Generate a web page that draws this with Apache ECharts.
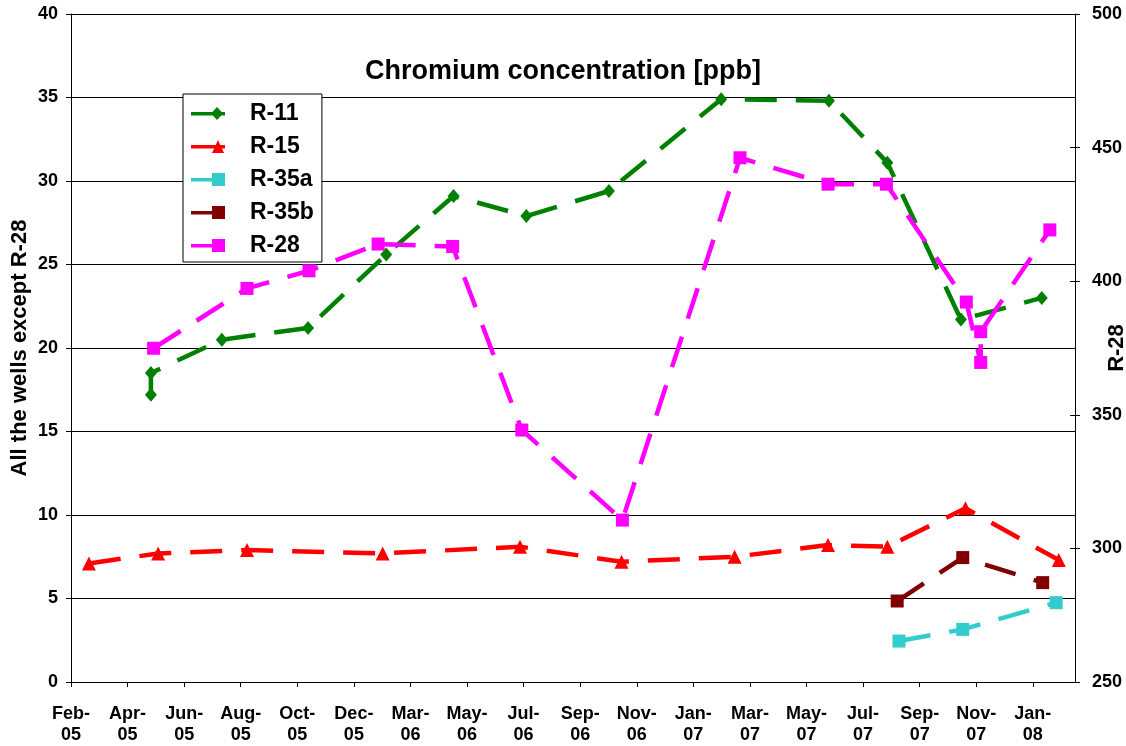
<!DOCTYPE html>
<html>
<head>
<meta charset="utf-8">
<title>Chromium concentration</title>
<script src="https://cdn.jsdelivr.net/npm/echarts@6/dist/echarts.min.js"></script>
<style>
  html, body { margin: 0; padding: 0; background: #fff; }
  #chart { width: 1126px; height: 746px; }
</style>
</head>
<body>
<div id="chart"></div>
<script>
  // sample dates and concentrations
  var r11Dates = ['2005-05-17', '2005-05-17', '2005-08-04', '2005-11-08', '2006-02-03', '2006-04-19', '2006-07-09', '2006-10-09', '2007-02-11', '2007-06-11', '2007-08-15', '2007-11-05', '2008-02-03']
  var r11Values = [17.2, 18.5, 20.5, 21.2, 25.6, 29.1, 27.9, 29.4, 34.9, 34.8, 31.1, 21.7, 23.0]

  var r15Dates = ['2005-03-09', '2005-05-25', '2005-09-01', '2006-01-30', '2006-07-02', '2006-10-23', '2007-02-26', '2007-06-10', '2007-08-15', '2007-11-10', '2008-02-22']
  var r15Values = [7.1, 7.7, 7.9, 7.7, 8.1, 7.2, 7.5, 8.2, 8.1, 10.4, 7.3]

  var r35aDates = ['2007-08-28', '2007-11-07', '2008-02-19']
  var r35aValues = [2.45, 3.15, 4.75]

  var r35bDates = ['2007-08-26', '2007-11-07', '2008-02-04']
  var r35bValues = [4.85, 7.45, 5.95]

  var r28Dates = ['2005-05-20', '2005-09-01', '2005-11-09', '2006-01-25', '2006-04-18', '2006-07-04', '2006-10-24', '2007-03-04', '2007-06-10', '2007-08-14', '2007-11-11', '2007-11-27', '2007-11-27', '2008-02-12']
  var r28Values = [374.9, 397.3, 403.9, 413.9, 413.0, 344.3, 310.6, 446.2, 436.3, 436.3, 392.2, 369.6, 381.1, 419.2]

  var leftTicks = { min: 0, max: 40, step: 5 }
  var rightTicks = { min: 250, max: 500, step: 50 }
  var monthNames = ['Jan', 'Feb', 'Mar', 'Apr', 'May', 'Jun', 'Jul', 'Aug', 'Sep', 'Oct', 'Nov', 'Dec']

  // x axis counts days from the first tick (Feb 17 2005), one tick every 63 days
  var DAY = 86400000
  var base = Date.UTC(2005, 1, 17)
  var tickDays = 63
  var lastDay = 1118

  function dayOf (s) {
    var p = s.split('-')
    return (Date.UTC(+p[0], +p[1] - 1, +p[2]) - base) / DAY
  }
  function pairs (dates, values) {
    return dates.map(function (d, i) { return [dayOf(d), values[i]] })
  }
  function tickLabel (v) {
    if (v % tickDays !== 0) return ''
    var d = new Date(base + v * DAY)
    return monthNames[d.getUTCMonth()] + '-\n' + String(d.getUTCFullYear()).slice(2)
  }

  var font = 'Liberation Sans, Arial, sans-serif'
  var dash = [32, 19]

  function lineSeries (name, color, symbol, size, data, axis) {
    return {
      name: name,
      type: 'line',
      yAxisIndex: axis,
      data: data,
      symbol: symbol,
      symbolSize: size,
      showAllSymbol: true,
      lineStyle: { color: color, width: 4.5, type: dash },
      itemStyle: { color: color },
      emphasis: { disabled: true }
    }
  }

  // legend icons: line with the marker near its right end
  var iconLine = 'M0,5H34V8.5H0Z '
  var icons = {
    diamond: 'path://' + iconLine + 'M26,0L32,6.5L26,13L20,6.5Z',
    triangle: 'path://' + iconLine + 'M27,0L33,13H21Z',
    square: 'path://' + iconLine + 'M21,0H34V13H21Z'
  }

  var labelFont = { color: '#000', fontSize: 18, fontWeight: 'bold', fontFamily: font }
  var nameFont = { fontSize: 22, fontWeight: 'bold', color: '#000', fontFamily: font }

  var myChart = echarts.init(document.getElementById('chart'))
  myChart.setOption({
    animation: false,
    textStyle: { fontFamily: font },
    title: {
      text: 'Chromium concentration [ppb]',
      left: 'center',
      top: 53,
      textStyle: { fontSize: 27, fontWeight: 'bold', color: '#000', fontFamily: font }
    },
    legend: {
      orient: 'vertical',
      left: 183,
      top: 94,
      padding: [8, 8, 5, 8],
      borderColor: '#000',
      borderWidth: 1,
      backgroundColor: '#fff',
      itemWidth: 34,
      itemHeight: 13,
      itemGap: 10,
      textStyle: { fontSize: 23, lineHeight: 21, fontWeight: 'bold', color: '#000', fontFamily: font, padding: [0, 0, 0, 20] },
      data: [
        { name: 'R-11', icon: icons.diamond },
        { name: 'R-15', icon: icons.triangle },
        { name: 'R-35a', icon: icons.square },
        { name: 'R-35b', icon: icons.square },
        { name: 'R-28', icon: icons.square }
      ]
    },
    grid: {
      left: 71,
      right: 51,
      top: 14,
      bottom: 64,
      containLabel: false,
      outerBoundsMode: 'none'
    },
    xAxis: {
      type: 'value',
      min: 0,
      max: lastDay,
      interval: tickDays,
      splitLine: { show: false },
      axisLine: { lineStyle: { color: '#000', width: 1 } },
      axisTick: { length: 5, lineStyle: { color: '#000' } },
      axisLabel: Object.assign({}, labelFont, {
        lineHeight: 21,
        margin: 22,
        showMaxLabel: false,
        formatter: tickLabel
      })
    },
    yAxis: [{
      type: 'value',
      position: 'left',
      min: leftTicks.min,
      max: leftTicks.max,
      interval: leftTicks.step,
      name: 'All the wells except R-28',
      nameLocation: 'middle',
      nameRotate: 90,
      nameGap: 40,
      nameMoveOverlap: false,
      nameTextStyle: nameFont,
      axisLine: { show: true, lineStyle: { color: '#000', width: 1 } },
      axisTick: { show: true, length: 5, lineStyle: { color: '#000' } },
      splitLine: { lineStyle: { color: '#000', width: 1 } },
      axisLabel: Object.assign({}, labelFont, { margin: 13 })
    }, {
      type: 'value',
      position: 'right',
      min: rightTicks.min,
      max: rightTicks.max,
      interval: rightTicks.step,
      name: 'R-28',
      nameLocation: 'middle',
      nameRotate: 90,
      nameGap: 31,
      nameMoveOverlap: false,
      nameTextStyle: nameFont,
      axisLine: { show: true, lineStyle: { color: '#000', width: 1 } },
      axisTick: { show: true, length: 5, lineStyle: { color: '#000' } },
      splitLine: { show: false },
      axisLabel: Object.assign({}, labelFont, { margin: 17 })
    }, {
      // inner half of the crossing ticks on the right axis
      type: 'value',
      position: 'right',
      min: rightTicks.min,
      max: rightTicks.max,
      interval: rightTicks.step,
      axisLine: { show: false },
      axisTick: { show: true, inside: true, length: 5, lineStyle: { color: '#000' } },
      splitLine: { show: false },
      axisLabel: { show: false }
    }],
    series: [
      lineSeries('R-11', '#008000', 'diamond', [12, 14], pairs(r11Dates, r11Values), 0),
      lineSeries('R-15', '#ff0000', 'triangle', 14, pairs(r15Dates, r15Values), 0),
      lineSeries('R-35a', '#33cccc', 'rect', 13, pairs(r35aDates, r35aValues), 0),
      lineSeries('R-35b', '#800000', 'rect', 13, pairs(r35bDates, r35bValues), 0),
      lineSeries('R-28', '#ff00ff', 'rect', 13, pairs(r28Dates, r28Values), 1)
    ]
  })
</script>
</body>
</html>
